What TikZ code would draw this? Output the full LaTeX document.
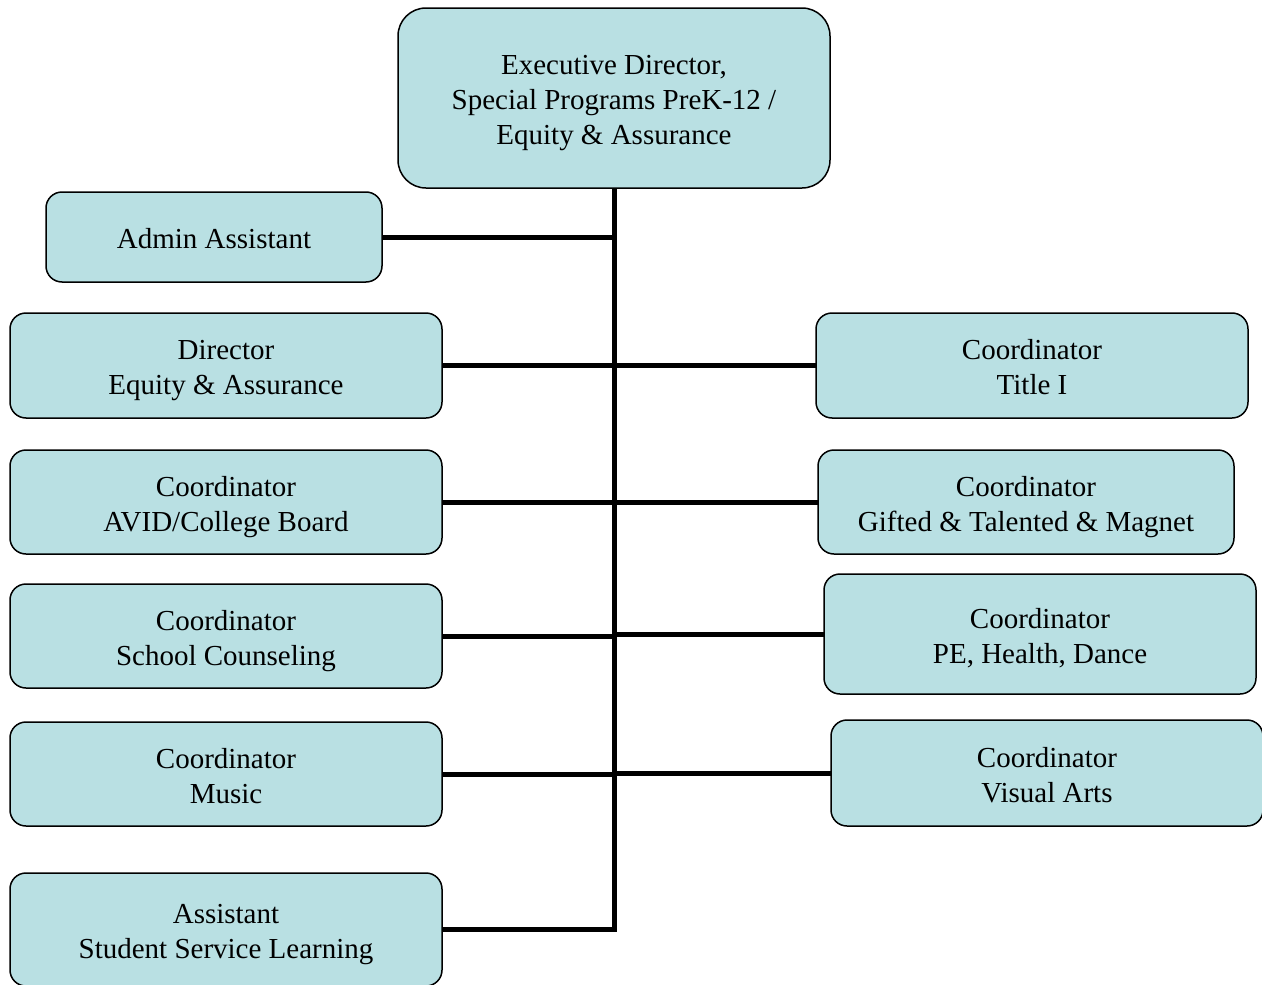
\documentclass[tikz,border=0pt]{standalone}
\usepackage{fontspec}
\setmainfont{Liberation Serif}
\usetikzlibrary{positioning}
\definecolor{boxcol}{HTML}{B9E0E3}
% lines of a box, set a little low as in the chart
\newcommand{\boxtext}[1]{\raisebox{-4.5pt}[\height][\depth]{\begin{tabular}{@{}c@{}}#1\end{tabular}}}
\tikzset{
  unit/.style = {
    shape = rectangle,
    draw = black,
    line width = 1.5pt,
    fill = boxcol,
    rounded corners = 16pt,
    inner sep = 0pt,
    outer sep = 0pt,
    minimum width = 432pt,
    minimum height = 104pt,
    font = \fontsize{29}{35}\selectfont,
    },
  head unit/.style = {
    unit,
    minimum height = 180pt,
    rounded corners = 28pt,
  },
  link/.style = {black, line width = 5pt}
}

\begin{document}
\begin{tikzpicture}[x=1pt,y=-1pt]
    \useasboundingbox (0,0) rectangle (1262,985);

    % head
    \node [head unit] (exec) at (614,98) {\boxtext{Executive Director,\\Special Programs PreK-12 /\\Equity \& Assurance}};
    \node [unit, minimum width=336pt, minimum height=90pt] (admin) at (214,237) {\boxtext{Admin Assistant}};

    % left column
    \node [unit, minimum height=105pt] (dir) at (226,365.5) {\boxtext{Director\\Equity \& Assurance}};
    \node [unit, below=32pt of dir] (avid) {\boxtext{Coordinator\\AVID/College Board}};
    \node [unit, below=30pt of avid] (couns) {\boxtext{Coordinator\\School Counseling}};
    \node [unit, below=34pt of couns] (music) {\boxtext{Coordinator\\Music}};
    \node [unit, below=47pt of music, minimum height=113pt] (ssl) {\boxtext{Assistant\\Student Service Learning}};

    % right column
    \node [unit, minimum height=105pt] (title) at (1032,365.5) {\boxtext{Coordinator\\Title I}};
    \node [unit, minimum width=416pt] (gifted) at (1026,502) {\boxtext{Coordinator\\Gifted \& Talented \& Magnet}};
    \node [unit, minimum height=120pt] (pe) at (1040,634) {\boxtext{Coordinator\\PE, Health, Dance}};
    \node [unit, minimum height=106pt] (visual) at (1047,773) {\boxtext{Coordinator\\Visual Arts}};

    % Paths
    \draw[link] (exec.south) |- (ssl.east);
    \draw[link] (admin.east) -- (admin.east -| exec.south);
    \draw[link] (dir.east) -- (title.west);
    \draw[link] (avid.east) -- (gifted.west);
    \draw[link] (couns.east) -- (couns.east -| exec.south);
    \draw[link] (pe.west) -- (pe.west -| exec.south);
    \draw[link] (music.east) -- (music.east -| exec.south);
    \draw[link] (visual.west) -- (visual.west -| exec.south);
\end{tikzpicture}
\end{document}
